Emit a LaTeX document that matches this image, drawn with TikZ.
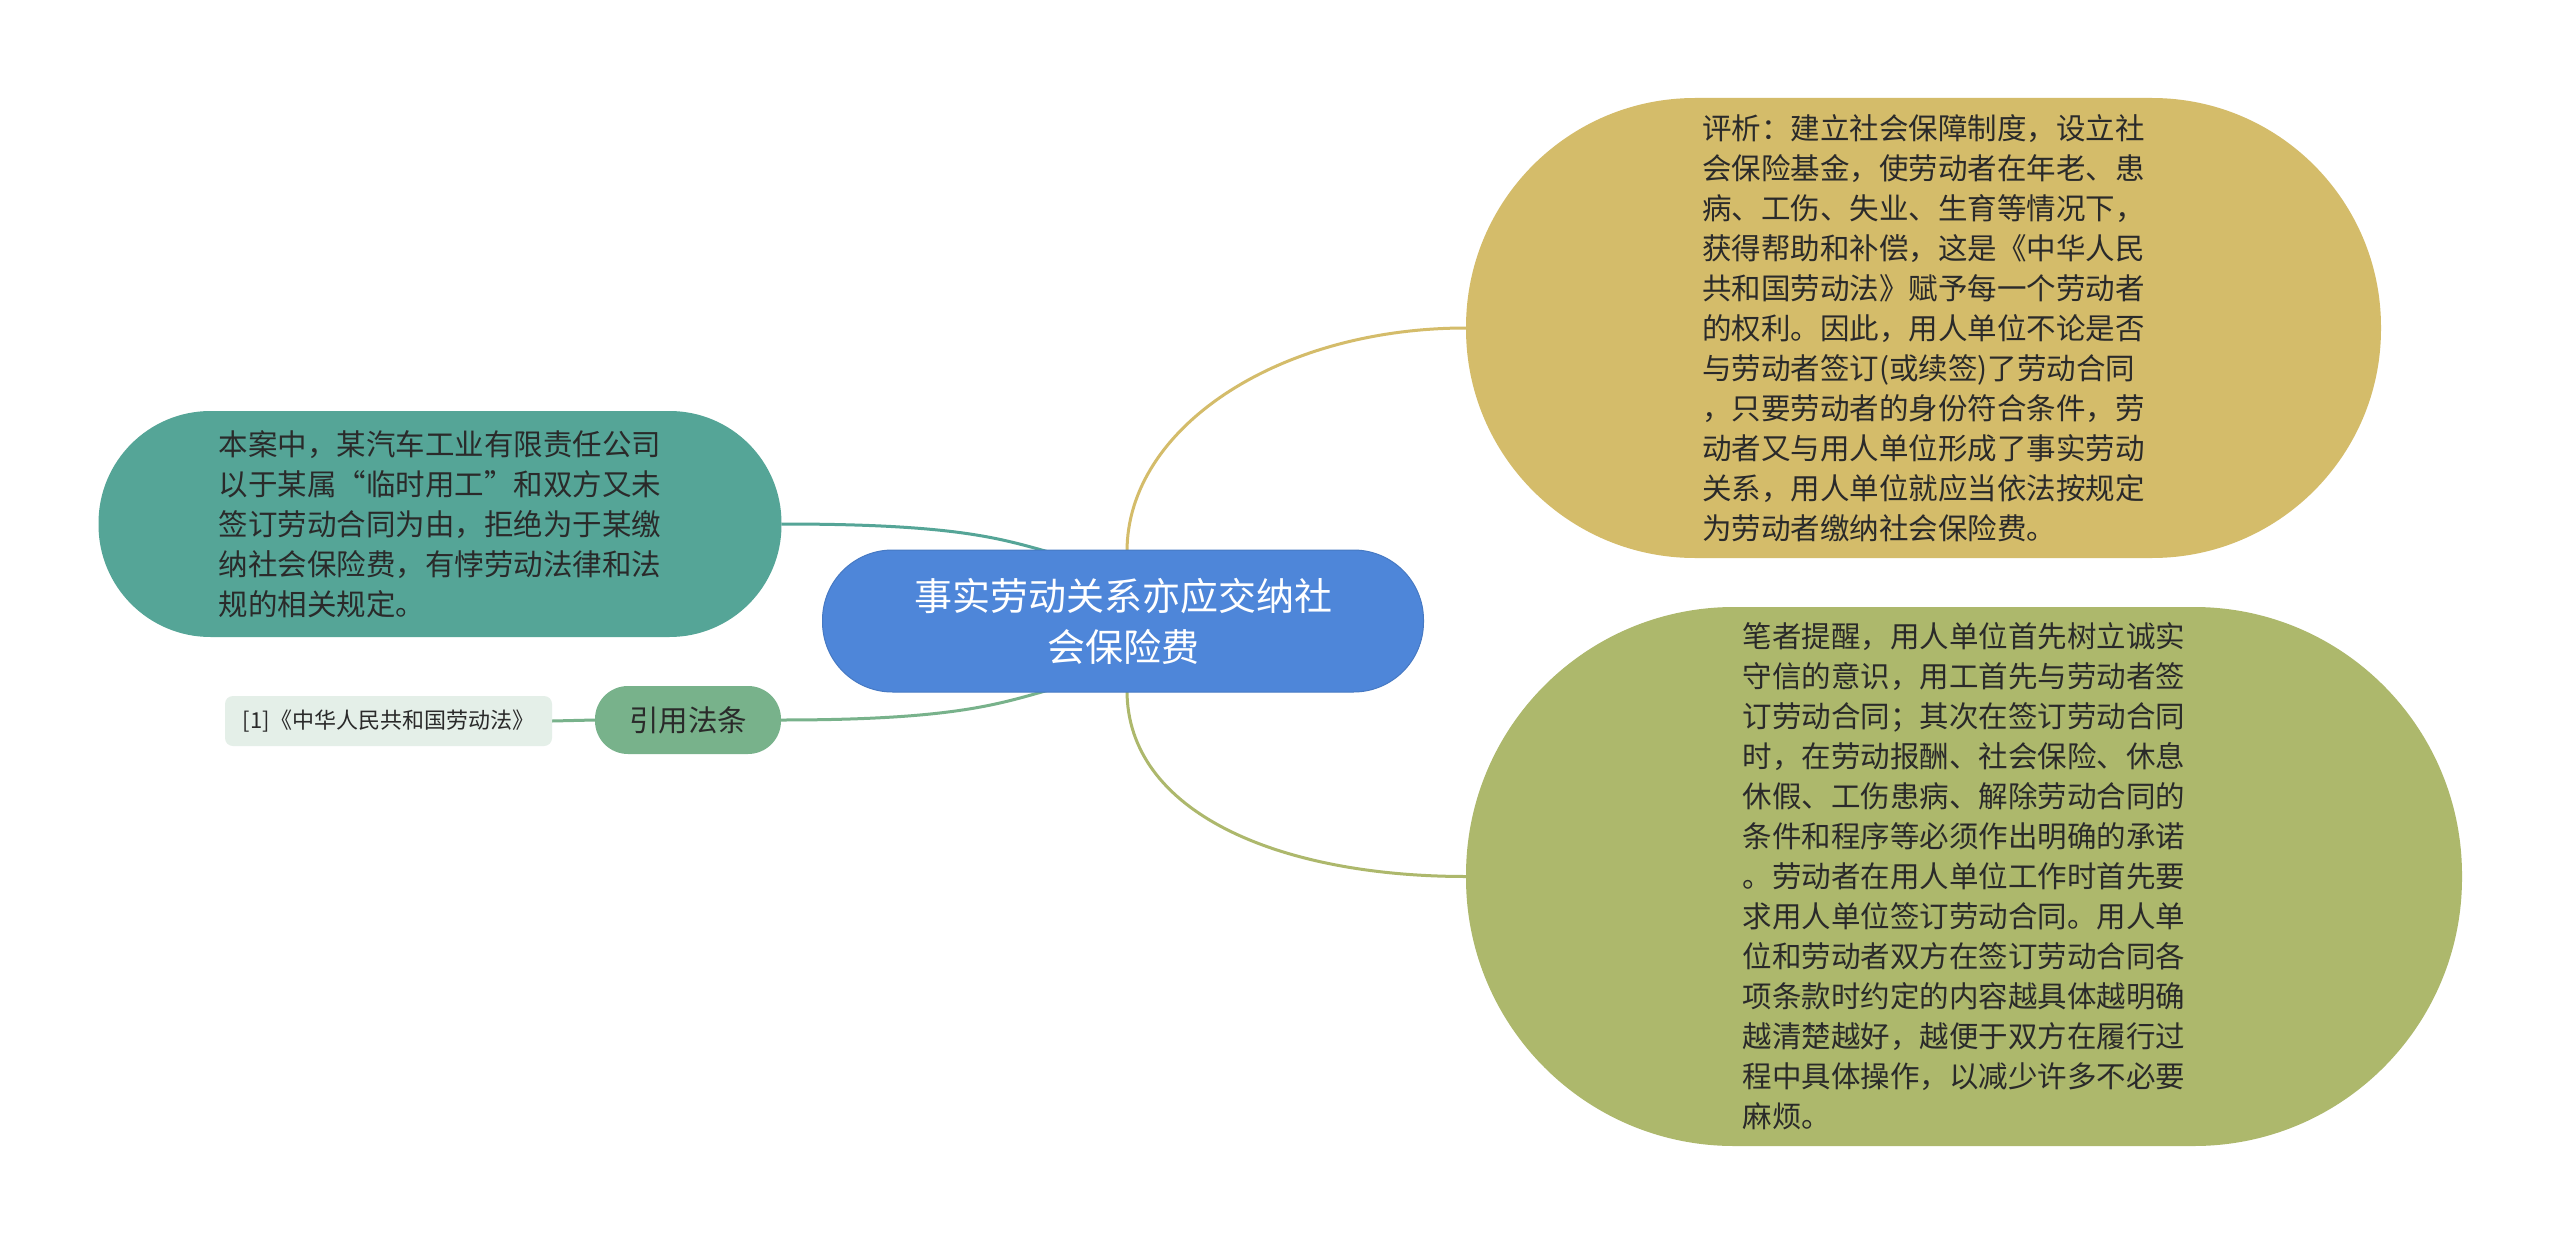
\documentclass[tikz,border=0pt]{standalone}
\usepackage{fontspec}
\setmainfont{Noto Sans CJK SC}
\usetikzlibrary{backgrounds,calc}
\definecolor{cblue}{HTML}{4E86D9}
\definecolor{cteal}{HTML}{55A597}
\definecolor{ccite}{HTML}{78B28B}
\definecolor{cref}{HTML}{E4EFE8}
\definecolor{cyel}{HTML}{D4BC6A}
\definecolor{colive}{HTML}{ADB86C}
\definecolor{txt}{HTML}{2A2A2A}
\begin{document}
\begin{tikzpicture}[x=1pt,y=-1pt,
  blob/.style={inner sep=0pt, align=left, text=txt, font={\fontsize{29.5}{40}\selectfont}},
  link/.style={line width=3pt}]
\useasboundingbox (0,0) rectangle (2560,1244);

\node[blob, fill=cblue, draw=cblue!90!black, line width=1pt, rounded corners=70pt,
      minimum width=601pt, minimum height=142pt, align=center, text=white,
      font={\fontsize{38}{51}\selectfont}] (c) at (1123,621)
  {事实劳动关系亦应交纳社\\会保险费};

\node[blob, fill=cteal, rounded corners=112pt, minimum width=683pt, minimum height=226pt] (l) at (440,524)
  {本案中，某汽车工业有限责任公司\\以于某属“临时用工”和双方又未\\签订劳动合同为由，拒绝为于某缴\\纳社会保险费，有悖劳动法律和法\\规的相关规定。};

\node[blob, fill=ccite, rounded corners=33pt, minimum width=186pt, minimum height=68pt, align=center] (cite) at (688,720)
  {引用法条};

\node[blob, fill=cref, rounded corners=8pt, minimum width=327pt, minimum height=50pt, align=center,
      font={\fontsize{22}{28}\selectfont}] (ref) at (388.5,721)
  {[1]《中华人民共和国劳动法》};

\node[blob, fill=cyel, rounded corners=229pt, minimum width=915pt, minimum height=460pt] (y) at (1923.5,328)
  {评析：建立社会保障制度，设立社\\会保险基金，使劳动者在年老、患\\病、工伤、失业、生育等情况下，\\获得帮助和补偿，这是《中华人民\\共和国劳动法》赋予每一个劳动者\\的权利。因此，用人单位不论是否\\与劳动者签订(或续签)了劳动合同\\，只要劳动者的身份符合条件，劳\\动者又与用人单位形成了事实劳动\\关系，用人单位就应当依法按规定\\为劳动者缴纳社会保险费。};

\node[blob, fill=colive, rounded corners=268pt, minimum width=996pt, minimum height=539pt] (g) at (1964,876.5)
  {笔者提醒，用人单位首先树立诚实\\守信的意识，用工首先与劳动者签\\订劳动合同；其次在签订劳动合同\\时，在劳动报酬、社会保险、休息\\休假、工伤患病、解除劳动合同的\\条件和程序等必须作出明确的承诺\\。劳动者在用人单位工作时首先要\\求用人单位签订劳动合同。用人单\\位和劳动者双方在签订劳动合同各\\项条款时约定的内容越具体越明确\\越清楚越好，越便于双方在履行过\\程中具体操作，以减少许多不必要\\麻烦。};

\begin{scope}[on background layer]
\fill[white] (0,0) rectangle (2560,1244);
\coordinate (ct) at ($(c.north)+(-76,2)$);
\coordinate (cb) at ($(c.south)+(-76,-2)$);
\draw[link, draw=cteal] (l.east) .. controls ($(l.east)+(170,0)$) and ($(ct)+(-50,-14)$) .. (ct);
\draw[link, draw=ccite] (cite.east) .. controls ($(cite.east)+(170,0)$) and ($(cb)+(-50,14)$) .. (cb);
\draw[link, draw=ccite] (ref.east) -- (cite.west);
\draw[link, draw=cyel] ($(c.north)+(4,2)$) .. controls ($(c.north)+(4,-122)$) and ($(y.west)+(-187,0)$) .. (y.west);
\draw[link, draw=colive] ($(c.south)+(4,-2)$) .. controls ($(c.south)+(4,120)$) and ($(g.west)+(-187,0)$) .. (g.west);
\end{scope}
\end{tikzpicture}
\end{document}
